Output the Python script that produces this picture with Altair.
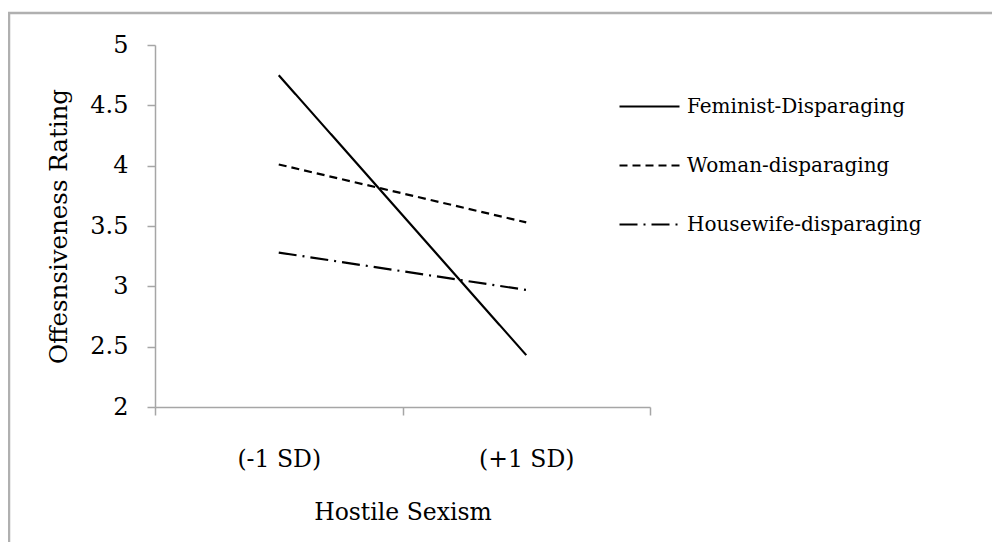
import altair as alt
import pandas as pd

levels = ["(-1 SD)", "(+1 SD)"]
series = ["Feminist-Disparaging", "Woman-disparaging", "Housewife-disparaging"]
feminist = [4.75, 2.43]
woman = [4.01, 3.53]
housewife = [3.28, 2.97]
y_ticks = [2, 2.5, 3, 3.5, 4, 4.5, 5]

rows = []
for name, vals in zip(series, [feminist, woman, housewife]):
    for lv, v in zip(levels, vals):
        rows.append({"level": lv, "series": name, "rating": v})
df = pd.DataFrame(rows)

FONT = "DejaVu Serif"
AX = "#a6a6a6"

border = alt.Chart(pd.DataFrame({"a": [0]})).mark_rect(
    fill="white", fillOpacity=0, stroke="#b0b0b0", strokeWidth=2.5
).encode(
    x=alt.value(-146), x2=alt.value(900), y=alt.value(-32), y2=alt.value(600)
)

lines = alt.Chart(df).mark_line(color="black", strokeWidth=2.2, strokeCap="butt").encode(
    x=alt.X("level:N", sort=levels,
            scale=alt.Scale(domain=levels, paddingInner=0, paddingOuter=0),
            axis=alt.Axis(title="Hostile Sexism", labelAngle=0, tickBand="extent",
                          domainColor=AX, tickColor=AX, tickSize=8, domainWidth=1.5, tickWidth=1.5,
                          labelFont=FONT, labelFontSize=23.5, labelColor="black", labelPadding=32,
                          titleFont=FONT, titleFontSize=23.5, titleFontWeight="normal",
                          titleColor="black", titlePadding=30, grid=False)),
    y=alt.Y("rating:Q", scale=alt.Scale(domain=[2, 5], nice=False, zero=False),
            axis=alt.Axis(title="Offesnsiveness Rating", values=y_ticks, format="~g",
                          domainColor=AX, tickColor=AX, tickSize=8, domainWidth=1.5, tickWidth=1.5,
                          labelFont=FONT, labelFontSize=24, labelColor="black", labelPadding=19,
                          titleFont=FONT, titleFontSize=24.5, titleFontWeight="normal",
                          titleColor="black", titlePadding=18, grid=False)),
    strokeDash=alt.StrokeDash("series:N", sort=series,
                              scale=alt.Scale(domain=series, range=[[1, 0], [8, 5], [18, 6, 2, 6]]),
                              legend=alt.Legend(title=None, orient="none", legendX=463, legendY=30,
                                                symbolType="stroke", symbolSize=3600,
                                                symbolStrokeColor="black", symbolStrokeWidth=2.2,
                                                labelFont=FONT, labelFontSize=20, labelColor="black",
                                                labelOffset=6, rowPadding=17, labelLimit=400)),
)

chart = alt.layer(border, lines).properties(
    width=495, height=362,
    autosize=alt.AutoSizeParams(type="none"),
    padding={"left": 147, "top": 37, "right": 342, "bottom": 135},
).configure_view(stroke=None)

chart.save("out.html", embed_options={"renderer": "svg", "actions": False})
